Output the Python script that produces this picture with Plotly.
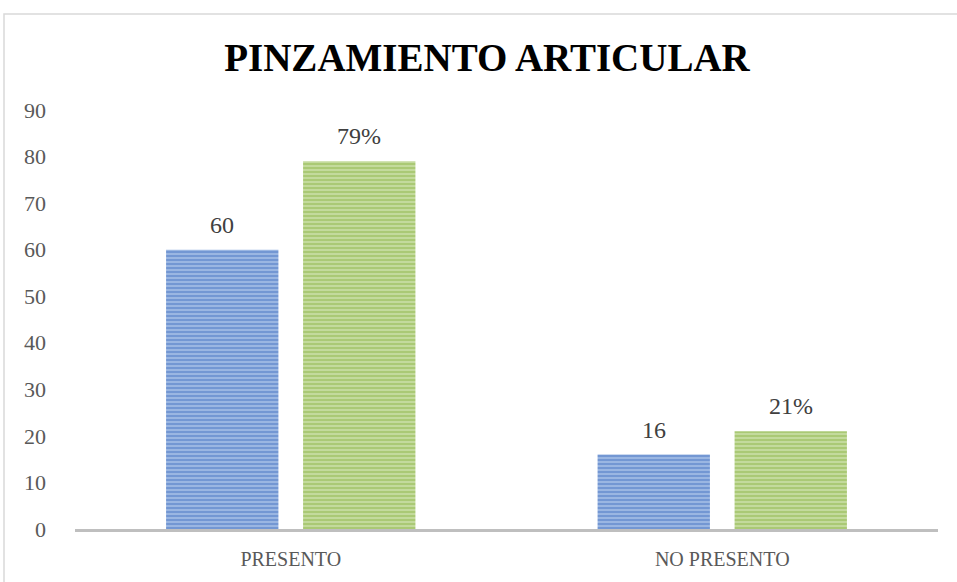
import plotly.graph_objects as go

categories = ["PRESENTO", "NO PRESENTO"]
counts = [60, 16]
percents = [79, 21]
y_ticks = [0, 10, 20, 30, 40, 50, 60, 70, 80, 90]
title_text = "PINZAMIENTO ARTICULAR"

FONT = "Liberation Serif, DejaVu Serif, serif"

fig = go.Figure()
fig.add_trace(go.Bar(
    x=categories, y=counts, name="Cantidad",
    marker=dict(color="#a6bfe7", line=dict(width=0),
                pattern=dict(shape="-", fgcolor="#3f6fbf", size=4, solidity=0.62)),
))
fig.add_trace(go.Bar(
    x=categories, y=percents, name="Porcentaje",
    marker=dict(color="#cbdfa9", line=dict(width=0),
                pattern=dict(shape="-", fgcolor="#89b341", size=4, solidity=0.62)),
))

W, H = 957, 582
L, R, T, B = 75, 19, 110, 53
pw, ph = W - L - R, H - T - B

bargap = 0.365
bargroupgap = 0.18
cat_w = pw / len(categories)
slot = cat_w * (1 - bargap) / 2
annotations = []
for i, c in enumerate(categories):
    annotations.append(dict(x=c, y=counts[i], xref="x", yref="y", text=str(counts[i]),
                            showarrow=False, xanchor="center", yanchor="bottom",
                            xshift=-slot / 2, yshift=10,
                            font=dict(family=FONT, size=24, color="#404040")))
    annotations.append(dict(x=c, y=percents[i], xref="x", yref="y", text=f"{percents[i]}%",
                            showarrow=False, xanchor="center", yanchor="bottom",
                            xshift=slot / 2, yshift=10,
                            font=dict(family=FONT, size=24, color="#404040")))

fig.update_layout(
    width=W, height=H,
    margin=dict(l=L, r=R, t=T, b=B),
    paper_bgcolor="white", plot_bgcolor="white",
    barmode="group", bargap=bargap, bargroupgap=bargroupgap,
    showlegend=False,
    title=dict(text=f"<b>{title_text}</b>", x=487 / W, xanchor="center",
               y=1 - 57 / H, yanchor="middle",
               font=dict(family=FONT, size=39, color="#000000")),
    xaxis=dict(showline=True, linecolor="#bfbfbf", linewidth=3, showgrid=False,
               ticks="", tickfont=dict(family=FONT, size=20, color="#595959"),
               ticklabelstandoff=10),
    yaxis=dict(range=[0, 90], tickvals=y_ticks, showgrid=False, showline=False,
               zeroline=False, ticks="", tickfont=dict(family=FONT, size=22, color="#595959"),
               ticklabelstandoff=28),
    annotations=annotations,
    shapes=[dict(type="rect", xref="paper", yref="paper",
                 x0=(4 - L) / pw, x1=1 + (R + 10) / pw,
                 y0=-(B + 10) / ph, y1=1 + (T - 14) / ph,
                 line=dict(color="#d9d9d9", width=1.5), fillcolor="rgba(0,0,0,0)", layer="below")],
)

fig.write_html("out.html", config={"displayModeBar": False},
               post_script="document.body.style.margin='0';document.body.style.overflow='hidden';")
